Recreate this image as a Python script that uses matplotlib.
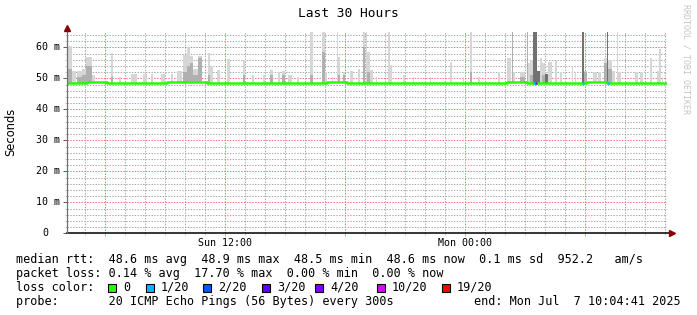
import datetime as dt
import numpy as np
import matplotlib
matplotlib.use("Agg")
import matplotlib.pyplot as plt
import matplotlib.dates as mdates
from matplotlib.patches import Rectangle
from matplotlib.ticker import FuncFormatter, MultipleLocator

START = dt.datetime(2025, 7, 6, 4, 4, 41)
HOURS = 30

# smoke spikes: hours since START, top of the ping spread (ms), denser inner part (ms, 0 = none)
spike_start = [0.03, 0.28, 0.53, 0.78, 0.98, 1.28, 2.23, 2.63, 3.23, 3.83, 4.23, 4.73, 5.23, 5.53,
               5.83, 6.03, 6.18, 6.33, 6.58, 7.08, 7.18, 7.53, 8.03, 8.83, 9.28, 9.83, 10.18, 10.58,
               10.78, 11.08, 11.53, 12.18, 12.78, 12.93, 13.28, 13.53, 13.58, 13.83, 14.18, 14.58,
               14.83, 14.98, 15.03, 15.18, 15.48, 16.08, 16.18, 16.83, 17.33, 18.18, 19.18, 19.83,
               20.18, 20.58, 21.58, 22.03, 22.28, 22.33, 22.68, 23.03, 23.08, 23.18, 23.33, 23.53,
               23.68, 23.78, 23.93, 24.08, 24.43, 24.68, 25.28, 25.43, 25.78, 25.88, 26.33, 26.58,
               26.88, 27.03, 27.08, 27.28, 27.53, 27.58, 28.43, 28.68, 29.18, 29.53, 29.63, 29.78]
spike_end = [0.28, 0.48, 0.78, 0.98, 1.28, 1.43, 2.33, 2.73, 3.53, 4.03, 4.33, 4.93, 5.33, 5.78,
             6.03, 6.18, 6.33, 6.58, 6.78, 7.18, 7.33, 7.68, 8.18, 8.93, 9.38, 9.93, 10.33, 10.68,
             10.93, 11.28, 11.63, 12.33, 12.93, 13.03, 13.33, 13.58, 13.68, 13.93, 14.33, 14.68,
             14.93, 15.03, 15.18, 15.33, 15.53, 16.18, 16.28, 16.93, 17.38, 18.23, 19.28, 19.88,
             20.28, 20.68, 21.68, 22.23, 22.33, 22.43, 22.93, 23.08, 23.18, 23.33, 23.53, 23.68,
             23.78, 23.93, 24.08, 24.28, 24.53, 24.78, 25.33, 25.48, 25.88, 26.03, 26.53, 26.73,
             27.03, 27.08, 27.28, 27.43, 27.58, 27.73, 28.58, 28.83, 29.28, 29.63, 29.73, 29.83]
spike_max = [60.5, 52.5, 52.3, 53.0, 57.0, 51.0, 58.0, 50.5, 51.5, 51.5, 51.5, 51.5, 51.5, 52.3,
             57.5, 60.0, 57.3, 53.0, 57.3, 58.0, 53.5, 52.7, 56.2, 55.8, 51.0, 51.0, 52.7, 52.0,
             52.3, 51.0, 50.5, 65.0, 65.0, 52.0, 50.5, 65.0, 57.0, 52.0, 52.5, 53.0,
             65.0, 65.0, 58.5, 52.7, 50.5, 65.0, 54.3, 51.0, 50.5, 50.5, 55.4, 50.5,
             65.0, 50.5, 52.0, 56.4, 65.0, 52.0, 52.0, 65.0, 54.8, 56.0, 65.0, 52.5,
             56.4, 55.0, 51.5, 55.4, 55.6, 52.0, 53.7, 52.0, 65.0, 52.5, 52.0, 52.0,
             56.4, 65.0, 55.8, 52.5, 65.0, 52.0, 52.0, 52.0, 56.4, 52.5, 59.4, 50.5]
spike_mid = [53.0, 0, 50.5, 51.0, 54.0, 0, 50.5, 0, 0, 0, 0, 0, 0, 0,
             52.0, 54.0, 55.0, 51.0, 56.4, 51.0, 0, 0, 0, 51.0, 0, 0, 51.0, 0,
             51.0, 0, 0, 51.0, 58.5, 0, 0, 0, 51.0, 51.0, 0, 0,
             60.0, 0, 52.0, 0, 0, 0, 0, 0, 0, 0, 0, 0,
             52.0, 0, 0, 0, 65.0, 0, 50.5, 65.0, 0, 51.0, 65.0, 52.5,
             0, 51.0, 51.5, 0, 0, 0, 0, 0, 65.0, 52.0, 0, 0,
             55.0, 65.0, 53.0, 0, 0, 0, 0, 0, 0, 0, 0, 0]
spike_dark = [0, 0, 0, 0, 0, 0, 0, 0, 0, 0, 0, 0, 0, 0,
              0, 0, 0, 0, 0, 0, 0, 0, 0, 0, 0, 0, 0, 0,
              0, 0, 0, 0, 0, 0, 0, 0, 0, 0, 0, 0,
              0, 0, 0, 0, 0, 0, 0, 0, 0, 0, 0, 0,
              0, 0, 0, 0, 0, 0, 0, 0, 0, 0, 65.0, 52.5,
              0, 0, 51.5, 0, 0, 0, 0, 0, 65.0, 0, 0, 0,
              0, 65.0, 0, 0, 0, 0, 0, 0, 0, 0, 0, 0]

# hourly median rtt (ms)
median_hour = list(range(31))
median_rtt = [48.6, 48.7, 48.6, 48.5, 48.6, 48.7, 48.7, 48.6, 48.6, 48.5, 48.6, 48.6, 48.6, 48.7,
              48.6, 48.6, 48.5, 48.6, 48.6, 48.5, 48.6, 48.6, 48.7, 48.6, 48.6, 48.6, 48.7, 48.6,
              48.6, 48.6, 48.6]

# steps with lost pings (out of 20)
loss_start = [23.33, 23.43, 25.78, 27.03]
loss_end = [23.43, 23.53, 25.88, 27.13]
loss_count = [1, 4, 1, 1]

loss_labels = ["0", "1/20", "2/20", "3/20", "4/20", "10/20", "19/20"]
loss_levels = [0, 1, 2, 3, 4, 10, 19]
loss_colors = ["#26ff00", "#00b8ff", "#0059ff", "#5e00ff", "#7e00ff", "#dd00ff", "#ff0000"]

y_ticks = [0, 10, 20, 30, 40, 50, 60]

W, H = 697, 315
MONO = "DejaVu Sans Mono"


def fx(x):
    return x / W


def fy(y):
    return 1 - y / H


def loss_color(n):
    c = loss_colors[0]
    for lvl, col in zip(loss_levels, loss_colors):
        if n >= lvl:
            c = col
    return c


fig = plt.figure(figsize=(W / 100, H / 100), dpi=100)
fig.patch.set_facecolor("white")
ax = fig.add_axes([fx(66.5), fy(233.3), fx(666.5) - fx(66.5), (233.3 - 31.8) / H])

t0 = mdates.date2num(START)


def tnum(h):
    return t0 + np.asarray(h, dtype=float) / 24


base = 48.6
s0 = np.array(spike_start)
s1 = np.array(spike_end)
smax = np.array(spike_max)
smid = np.array(spike_mid)
sdark = np.array(spike_dark)

ax.bar(tnum(s0), smax - base, width=(s1 - s0) / 24, bottom=base, align="edge",
       color="#d6d6d6", linewidth=0, antialiased=False, zorder=2)
m = smid > 0
ax.bar(tnum(s0[m]), smid[m] - base, width=(s1[m] - s0[m]) / 24, bottom=base, align="edge",
       color="#b0b0b0", linewidth=0, antialiased=False, zorder=3)
d = sdark > 0
ax.bar(tnum(s0[d]), sdark[d] - base, width=(s1[d] - s0[d]) / 24, bottom=base, align="edge",
       color="#727272", linewidth=0, antialiased=False, zorder=4)

ax.step(tnum(median_hour), median_rtt, where="post", color=loss_colors[0], lw=1.8,
        solid_capstyle="butt", zorder=5)
for a, b, n in zip(loss_start, loss_end, loss_count):
    ax.plot(tnum([a, b]), [base, base], color=loss_color(n), lw=1.8,
            solid_capstyle="butt", zorder=6)

ax.set_xlim(t0, t0 + HOURS / 24)
ax.set_ylim(0, 65)

# grid like rrdtool: hourly / 2 ms minor, 6 h / 10 ms major, dotted
ax.xaxis.set_major_locator(mdates.HourLocator(byhour=[0, 6, 12, 18]))
ax.xaxis.set_minor_locator(mdates.HourLocator())
ax.xaxis.set_major_formatter(FuncFormatter(
    lambda v, p: mdates.num2date(v).strftime("%a %H:%M") if mdates.num2date(v).hour % 12 == 0 else ""))
ax.yaxis.set_major_locator(MultipleLocator(10))
ax.yaxis.set_minor_locator(MultipleLocator(2))
ax.set_yticklabels([])
ax.set_axisbelow(True)
ax.grid(which="minor", color="#aaaaaa", linestyle=(0, (1.4, 1.4)), linewidth=0.72)
ax.grid(which="major", color="#ff7070", linestyle=(0, (1.4, 1.4)), linewidth=0.72)

ax.tick_params(axis="x", which="major", length=2, width=0.72, color="#ff9a9a", pad=1.5,
               labelsize=7.2, labelfontfamily=MONO)
ax.tick_params(axis="x", which="minor", length=1.5, width=0.72, color="#c8c8c8")
ax.tick_params(axis="y", which="major", length=3, width=0.72, color="#606060")
ax.tick_params(axis="y", which="minor", length=1.5, width=0.72, color="#c8c8c8")

for s in ax.spines.values():
    s.set_visible(False)
ax.plot([0, 1.008], [0, 0], transform=ax.transAxes, clip_on=False, color="black", lw=1.1, zorder=7)
ax.plot([0, 0], [0, 1.015], transform=ax.transAxes, clip_on=False, color="#707070", lw=0.9, zorder=7)
ax.plot([1.009], [0], marker=">", ms=4.5, color="#8b0000", transform=ax.transAxes, clip_on=False, zorder=8)
ax.plot([0], [1.018], marker="^", ms=4.5, color="#8b0000", transform=ax.transAxes, clip_on=False, zorder=8)

ytr = ax.get_yaxis_transform()
for v in y_ticks:
    if v == 0:
        ax.text(-18.5 / 600, v, "0", transform=ytr, ha="right", va="center", fontsize=7.2, family=MONO)
    else:
        ax.text(-6.5 / 600, v, f"{v} m", transform=ytr, ha="right", va="center", fontsize=7.2, family=MONO)

fig.text(fx(348.5), fy(13.5), "Last 30 Hours", ha="center", va="center", fontsize=9.3, family=MONO)
fig.text(fx(11), fy(132), "Seconds", rotation=90, ha="center", va="center", fontsize=8.3,
         family="DejaVu Sans")
fig.text(fx(686), fy(4), "RRDTOOL / TOBI OETIKER", rotation=270, ha="center", va="top",
         fontsize=6, color="#c4c4c4", family=MONO)

# legend block
fig.text(fx(16), fy(262.7),
         "median rtt:  48.6 ms avg  48.9 ms max  48.5 ms min  48.6 ms now  0.1 ms sd  952.2   am/s",
         ha="left", va="baseline", fontsize=8.5, family=MONO)
fig.text(fx(16), fy(276.7), "packet loss: 0.14 % avg  17.70 % max  0.00 % min  0.00 % now",
         ha="left", va="baseline", fontsize=8.5, family=MONO)
fig.text(fx(16), fy(290.7), "loss color:", ha="left", va="baseline", fontsize=8.5, family=MONO)
box_x = [108, 146, 203, 262, 315, 377, 442]
for bx, lab, col in zip(box_x, loss_labels, loss_colors):
    fig.add_artist(Rectangle((fx(bx), fy(291.5)), 8 / W, 8 / H, transform=fig.transFigure,
                             facecolor=col, edgecolor="black", linewidth=0.8))
    fig.text(fx(bx + 15), fy(290.7), lab, ha="left", va="baseline", fontsize=8.5, family=MONO)
fig.text(fx(16), fy(304.7), "probe:       20 ICMP Echo Pings (56 Bytes) every 300s",
         ha="left", va="baseline", fontsize=8.5, family=MONO)
fig.text(fx(681), fy(304.7), "end: Mon Jul  7 10:04:41 2025",
         ha="right", va="baseline", fontsize=8.5, family=MONO)

fig.savefig("out.png", dpi=100)
